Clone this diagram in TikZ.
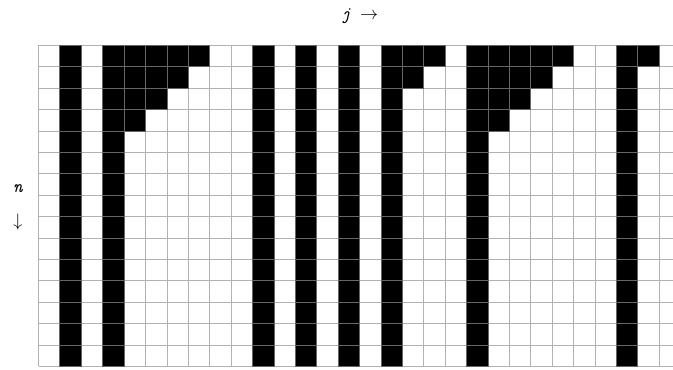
\documentclass[tikz,border=0pt]{standalone}
\usepackage{amsmath,amssymb}
\usepackage{xcolor}

\begin{document}
\begin{tikzpicture}[
  x=0.5cm, y=0.5cm,
  gridline/.style={draw=black!30, line width=0.6pt},
  cellon/.style={fill=black, draw=black!60, line width=0.6pt},
  axislabel/.style={font=\large\ttfamily\itshape, inner sep=0pt},
]

\clip (-1.80,2.12) rectangle (29.64,-15.13);

% grid of cells
\draw[gridline, step=1] (0,-15) grid (30,0);

% black cells: column / number of rows from the top
\foreach \col/\len in {1/15, 3/15, 4/4, 5/3, 6/2, 7/1, 10/15, 12/15, 14/15,
                       16/15, 17/2, 18/1, 20/15, 21/4, 22/3, 23/2, 24/1, 27/15, 28/1}
  \foreach \row in {1,...,\len}
    \draw[cellon] (\col,-\row) rectangle ++(1,1);

% axis labels
\node[axislabel] (jlabel) at (15.0,1.35) {j \textup{$\rightarrow$}};
\node[axislabel] (nlabel) at (-0.96,-6.67) {n};
\node[axislabel] (narrow) at (-0.96,-8.26) {\textup{$\downarrow$}};

\end{tikzpicture}
\end{document}
